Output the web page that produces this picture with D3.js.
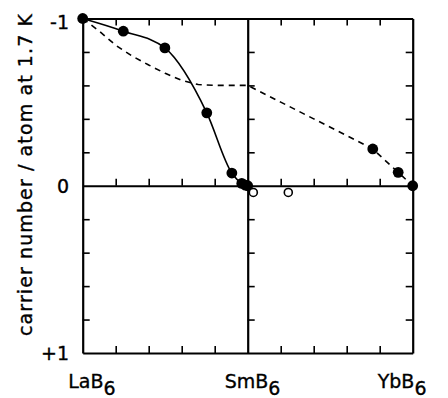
<!DOCTYPE html>
<html>
<head>
<meta charset="utf-8">
<script src="https://cdn.jsdelivr.net/npm/d3@7"></script>
<style>
  body { margin: 0; background: #fff; }
  svg { display: block; }
  .frame .domain { stroke: #000; stroke-width: 2.2; }
  .frame .tick line { stroke: #000; stroke-width: 1.6; }
  text { font-family: "DejaVu Sans", sans-serif; fill: #000; stroke: #000; stroke-width: 0.35; }
</style>
</head>
<body>
<div id="chart"></div>
<script>
// compound positions along the series (LaB6 -> SmB6 -> YbB6)
const compounds = ['LaB', 'SmB', 'YbB'];
const compoundPos = [0, 5, 10];

// filled points, La-Sm side (solid curve)
const solidX = [0, 1.23, 2.49, 3.76, 4.52, 4.82, 4.93, 5.0];
const solidY = [-1, -0.924, -0.824, -0.436, -0.076, -0.014, -0.004, 0.0];

// filled points, Sm-Yb side
const rightX = [8.79, 9.56, 10];
const rightY = [-0.22, -0.08, 0];

// open points
const openX = [5.17, 6.23];
const openY = [0.04, 0.04];

// dashed curve
const dashX = [0, 0.5, 1.0, 1.5, 2.0, 2.5, 3.0, 3.5, 4.0, 5.0, 6.0, 7.0, 8.0, 8.79, 9.56, 10];
const dashY = [-1, -0.925, -0.84, -0.775, -0.722, -0.672, -0.63, -0.605, -0.6, -0.6, -0.5, -0.4, -0.3, -0.22, -0.08, 0];

const yTickLabels = ['-1', '0', '+1'];
const yTickVals = [-1, 0, 1];
const minorX = [1, 2, 3, 4, 6, 7, 8, 9];
const minorY = [-0.8, -0.6, -0.4, -0.2, 0.2, 0.4, 0.6, 0.8];

const width = 448, height = 398;
const svg = d3.select('#chart').append('svg').attr('width', width).attr('height', height);

const x = d3.scaleLinear().domain([0, 10]).range([82.7, 412.7]);
const y = d3.scaleLinear().domain([-1, 1]).range([18.5, 353]);

// frame + inner lines, ticks pointing inward
const fr = svg.append('g').attr('class', 'frame');
const noLab = () => '';
fr.append('g').attr('transform', `translate(0,${y(-1)})`)
  .call(d3.axisBottom(x).tickValues(minorX).tickSize(7).tickSizeOuter(0).tickFormat(noLab));
fr.append('g').attr('transform', `translate(0,${y(1)})`)
  .call(d3.axisTop(x).tickValues(minorX).tickSize(7).tickSizeOuter(0).tickFormat(noLab));
fr.append('g').attr('transform', `translate(0,${y(0)})`)
  .call(d3.axisTop(x).tickValues(minorX).tickSize(7).tickSizeOuter(0).tickFormat(noLab));
fr.append('g').attr('transform', `translate(${x(0)},0)`)
  .call(d3.axisRight(y).tickValues(minorY).tickSize(7).tickSizeOuter(0).tickFormat(noLab));
fr.append('g').attr('transform', `translate(${x(10)},0)`)
  .call(d3.axisLeft(y).tickValues(minorY).tickSize(7).tickSizeOuter(0).tickFormat(noLab));
fr.append('g').attr('transform', `translate(${x(5)},0)`)
  .call(d3.axisRight(y).tickValues(minorY).tickSize(7).tickSizeOuter(0).tickFormat(noLab));
fr.selectAll('text').remove();

// y tick labels
svg.append('g').selectAll('text').data(yTickLabels).join('text')
  .attr('x', 69)
  .attr('y', (d, i) => y(yTickVals[i]) + (i === 0 ? 3 : 0))
  .attr('text-anchor', 'end')
  .attr('dominant-baseline', 'central')
  .style('font-size', '19px')
  .text(d => d);

// y axis title
svg.append('text')
  .attr('transform', 'translate(32,175) rotate(-90)')
  .attr('text-anchor', 'middle')
  .attr('textLength', 322)
  .attr('lengthAdjust', 'spacing')
  .style('font-size', '19px')
  .text('carrier number / atom at 1.7 K');

// compound labels with subscript 6
const labOff = [-14.5, -23, -35];
const lab = svg.append('g').selectAll('text').data(compounds).join('text')
  .attr('x', (d, i) => x(compoundPos[i]) + labOff[i])
  .attr('y', 388)
  .style('font-size', '19px');
lab.append('tspan').text(d => d);
lab.append('tspan').attr('dy', 7).text('6');

// dashed curve
const dashLine = d3.line().x(d => x(d[0])).y(d => y(d[1]));
svg.append('path')
  .datum(dashX.map((v, i) => [v, dashY[i]]))
  .attr('d', dashLine)
  .attr('fill', 'none')
  .attr('stroke', '#000')
  .attr('stroke-width', 1.6)
  .attr('stroke-dasharray', '6,5');

// solid curve
const solidLine = d3.line().x(d => x(d[0])).y(d => y(d[1])).curve(d3.curveMonotoneX);
svg.append('path')
  .datum(solidX.map((v, i) => [v, solidY[i]]))
  .attr('d', solidLine)
  .attr('fill', 'none')
  .attr('stroke', '#000')
  .attr('stroke-width', 1.6);

// filled points
const filled = solidX.map((v, i) => [v, solidY[i]]).concat(rightX.map((v, i) => [v, rightY[i]]));
svg.append('g').selectAll('circle').data(filled).join('circle')
  .attr('cx', d => x(d[0]))
  .attr('cy', d => y(d[1]))
  .attr('r', 5.4)
  .attr('fill', '#000');

// open points
svg.append('g').selectAll('circle').data(openX.map((v, i) => [v, openY[i]])).join('circle')
  .attr('cx', d => x(d[0]))
  .attr('cy', d => y(d[1]))
  .attr('r', 4)
  .attr('fill', '#fff')
  .attr('stroke', '#000')
  .attr('stroke-width', 1.6);
</script>
</body>
</html>
